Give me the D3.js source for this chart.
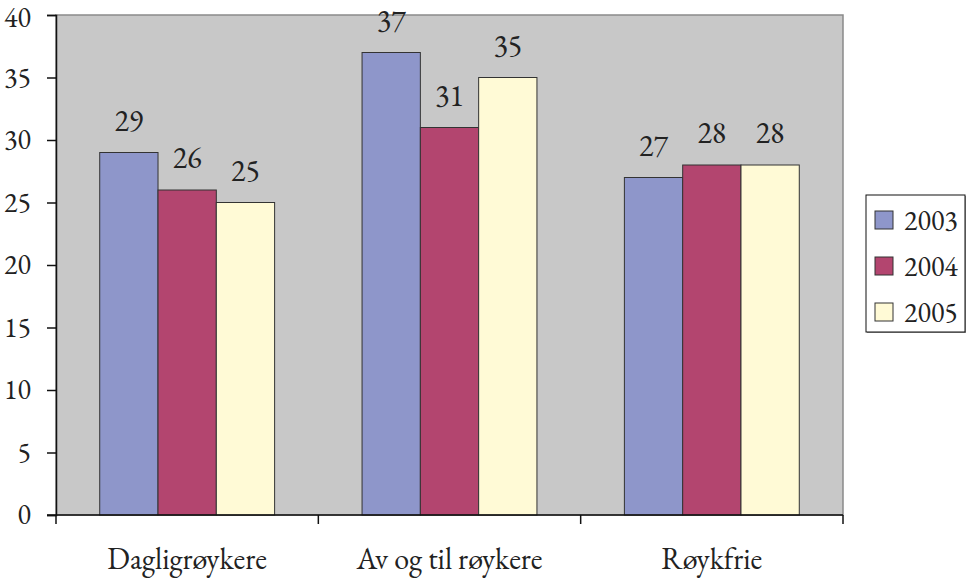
<!DOCTYPE html>
<html>
<head>
<meta charset="utf-8">
<script src="https://cdn.jsdelivr.net/npm/d3@7"></script>
<style>
  body { margin: 0; background: #fff; }
</style>
</head>
<body>
<div id="chart"></div>
<script>
var categories = ["Dagligrøykere", "Av og til røykere", "Røykfrie"];
var years = ["2003", "2004", "2005"];
var values2003 = [29, 37, 27];
var values2004 = [26, 31, 28];
var values2005 = [25, 35, 28];
var yTicks = [0, 5, 10, 15, 20, 25, 30, 35, 40];
var colors = ["#8E96CA", "#B3456F", "#FFFAD6"];

var svgWidth = 967;
var svgHeight = 578;

var plot = { left: 56, top: 15, right: 843, bottom: 515 };
var fontSize = 30;
var smallFont = 28;
var fontFamily = "'EB Garamond', 'Liberation Serif', serif";
var textColor = "#222";

var svg = d3.select("#chart")
  .append("svg")
  .attr("width", svgWidth)
  .attr("height", svgHeight);

var series = [values2003, values2004, values2005];

var x0 = d3.scaleBand()
  .domain(categories)
  .range([plot.left, plot.right])
  .padding(0);

// 3 bars fill 3 of 4.5 slots in a category (50% gap width)
var x1 = d3.scaleBand()
  .domain(years)
  .range([0, x0.bandwidth()])
  .paddingInner(0)
  .paddingOuter(0.75);

var y = d3.scaleLinear()
  .domain([0, 40])
  .range([plot.bottom, plot.top]);

// plot area
svg.append("rect")
  .attr("x", plot.left)
  .attr("y", plot.top)
  .attr("width", plot.right - plot.left)
  .attr("height", plot.bottom - plot.top)
  .attr("fill", "#C8C8C8")
  .attr("stroke", "#8a8a8a")
  .attr("stroke-width", 1.5);

// bars + value labels
categories.forEach(function(cat, ci) {
  var g = svg.append("g")
    .attr("transform", `translate(${x0(cat)},0)`);
  years.forEach(function(yr, si) {
    var v = series[si][ci];
    g.append("rect")
      .attr("x", x1(yr))
      .attr("y", y(v))
      .attr("width", x1.bandwidth())
      .attr("height", y(0) - y(v))
      .attr("fill", colors[si])
      .attr("stroke", "#333")
      .attr("stroke-width", 1);
    g.append("text")
      .attr("x", x1(yr) + x1.bandwidth() / 2)
      .attr("y", y(v) - 22)
      .attr("text-anchor", "middle")
      .style("font-family", fontFamily)
      .style("font-size", fontSize + "px")
      .style("fill", textColor)
      .text(v);
  });
});

// y axis
var leftAxis = d3.axisLeft(y)
  .tickValues(yTicks)
  .tickSize(9)
  .tickPadding(16);

var yAxis = svg.append("g")
  .attr("transform", `translate(${plot.left},0)`)
  .call(leftAxis);
yAxis.select(".domain").attr("stroke", "#111").attr("stroke-width", 1.5);
yAxis.selectAll(".tick line").attr("stroke", "#111").attr("stroke-width", 1.5);
yAxis.selectAll(".tick text")
  .style("font-family", fontFamily)
  .style("font-size", smallFont + "px")
  .style("fill", textColor)
  .attr("dy", d => d === 40 ? "0.4em" : "0.32em"); // top label sits a bit lower

// x axis
var xAxisG = svg.append("g")
  .attr("transform", `translate(0,${plot.bottom})`);
xAxisG.append("line")
  .attr("x1", plot.left - 9)
  .attr("x2", plot.right)
  .attr("stroke", "#111")
  .attr("stroke-width", 1.5);
var bounds = categories.map(function(c) { return x0(c); }).concat([plot.right]);
xAxisG.selectAll("line.tk")
  .data(bounds)
  .enter()
  .append("line")
  .attr("class", "tk")
  .attr("x1", d => d)
  .attr("x2", d => d)
  .attr("y1", 0)
  .attr("y2", 9)
  .attr("stroke", "#111")
  .attr("stroke-width", 1.5);
xAxisG.selectAll("text.cat")
  .data(categories)
  .enter()
  .append("text")
  .attr("class", "cat")
  .attr("x", d => x0(d) + x0.bandwidth() / 2)
  .attr("y", 54)
  .attr("text-anchor", "middle")
  .style("font-family", fontFamily)
  .style("font-size", fontSize + "px")
  .style("fill", textColor)
  .text(d => d);

// legend
var legend = svg.append("g");
legend.append("rect")
  .attr("x", 867)
  .attr("y", 196)
  .attr("width", 99)
  .attr("height", 137)
  .attr("fill", "#999");
legend.append("rect")
  .attr("x", 866)
  .attr("y", 195)
  .attr("width", 99)
  .attr("height", 137)
  .attr("fill", "#fff")
  .attr("stroke", "#111")
  .attr("stroke-width", 1);

years.forEach(function(yr, i) {
  var ly = 211 + i * 46;
  legend.append("rect")
    .attr("x", 875)
    .attr("y", ly)
    .attr("width", 18)
    .attr("height", 18)
    .attr("fill", colors[i])
    .attr("stroke", "#333")
    .attr("stroke-width", 1);
  legend.append("text")
    .attr("x", 904)
    .attr("y", ly + 19)
    .style("font-family", fontFamily)
    .style("font-size", smallFont + "px")
    .style("fill", textColor)
    .text(yr);
});
</script>
</body>
</html>
